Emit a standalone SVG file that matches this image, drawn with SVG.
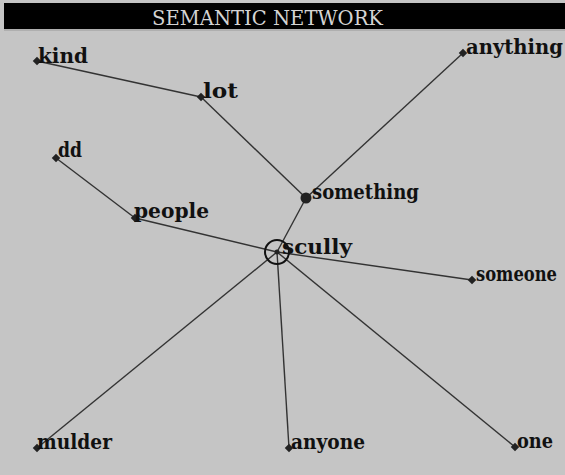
<svg xmlns="http://www.w3.org/2000/svg" width="565" height="475" viewBox="0 0 565 475">
<style>
.lbl{font-family:"DejaVu Serif","Liberation Serif",serif;font-weight:bold;font-size:20px;fill:#111}
.title{font-family:"DejaVu Serif","Liberation Serif",serif;font-size:21px;fill:#d4d4d4}
.e{stroke:#333;stroke-width:1.4;fill:none}
.dot{fill:#222}
</style>
<rect width="565" height="475" fill="#c5c5c5"/>
<rect x="4" y="3" width="561" height="26" fill="#000"/>
<line x1="4" y1="30" x2="565" y2="30" stroke="#9a9a9a" stroke-width="1"/>
<text class="title" x="152" y="25" textLength="231" lengthAdjust="spacingAndGlyphs">SEMANTIC NETWORK</text>
<g id="connectors">
<line class="e" x1="37" y1="61" x2="201" y2="97"/>
<line class="e" x1="201" y1="97" x2="306" y2="198"/>
<line class="e" x1="463" y1="53" x2="306" y2="198"/>
<line class="e" x1="306" y1="198" x2="277" y2="252"/>
<line class="e" x1="56" y1="158" x2="135" y2="218"/>
<line class="e" x1="135" y1="218" x2="277" y2="252"/>
<line class="e" x1="277" y1="252" x2="472" y2="280"/>
<line class="e" x1="277" y1="252" x2="37" y2="448"/>
<line class="e" x1="277" y1="252" x2="289" y2="448"/>
<line class="e" x1="277" y1="252" x2="515" y2="447"/>
</g>
<g id="kind"><rect class="dot" x="34" y="58" width="6" height="6" transform="rotate(45 37 61)"/><text class="lbl" x="38" y="63" textLength="50" lengthAdjust="spacingAndGlyphs">kind</text></g>
<g id="lot"><rect class="dot" x="198" y="94" width="6" height="6" transform="rotate(45 201 97)"/><text class="lbl" x="203" y="98" textLength="35" lengthAdjust="spacingAndGlyphs">lot</text></g>
<g id="dd"><rect class="dot" x="53" y="155" width="6" height="6" transform="rotate(45 56 158)"/><text class="lbl" x="58" y="157" textLength="24" lengthAdjust="spacingAndGlyphs">dd</text></g>
<g id="people"><rect class="dot" x="132" y="215" width="6" height="6" transform="rotate(45 135 218)"/><text class="lbl" x="134" y="218" textLength="75" lengthAdjust="spacingAndGlyphs">people</text></g>
<g id="something"><circle class="dot" cx="306" cy="198" r="5.5"/><text class="lbl" x="312" y="199" textLength="107" lengthAdjust="spacingAndGlyphs">something</text></g>
<g id="anything"><rect class="dot" x="460" y="50" width="6" height="6" transform="rotate(45 463 53)"/><text class="lbl" x="466" y="54" textLength="97" lengthAdjust="spacingAndGlyphs">anything</text></g>
<g id="scully"><circle cx="277" cy="252" r="12" fill="none" stroke="#111" stroke-width="2"/><circle class="dot" cx="277" cy="252" r="2.5"/><text class="lbl" x="282" y="254" textLength="70" lengthAdjust="spacingAndGlyphs">scully</text></g>
<g id="someone"><rect class="dot" x="469" y="277" width="6" height="6" transform="rotate(45 472 280)"/><text class="lbl" x="476" y="281" textLength="81" lengthAdjust="spacingAndGlyphs">someone</text></g>
<g id="mulder"><rect class="dot" x="34" y="445" width="6" height="6" transform="rotate(45 37 448)"/><text class="lbl" x="37" y="449" textLength="75" lengthAdjust="spacingAndGlyphs">mulder</text></g>
<g id="anyone"><rect class="dot" x="286" y="445" width="6" height="6" transform="rotate(45 289 448)"/><text class="lbl" x="291" y="449" textLength="74" lengthAdjust="spacingAndGlyphs">anyone</text></g>
<g id="one"><rect class="dot" x="512" y="444" width="6" height="6" transform="rotate(45 515 447)"/><text class="lbl" x="517" y="448" textLength="36" lengthAdjust="spacingAndGlyphs">one</text></g>
</svg>
